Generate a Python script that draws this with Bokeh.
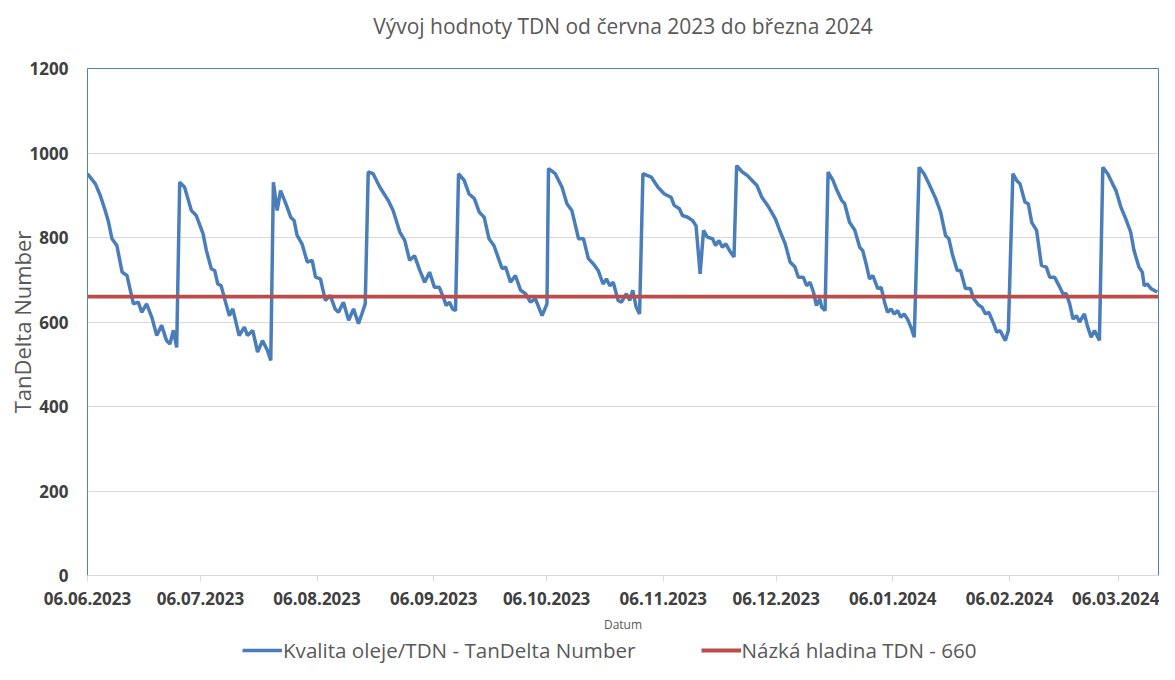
import numpy as np
from bokeh.plotting import figure
from bokeh.layouts import column
from bokeh.models import (FixedTicker, DatetimeTickFormatter, Range1d, Legend,
                          LegendItem, ColumnDataSource)
from bokeh.embed import file_html
from bokeh.resources import INLINE

TITLE = "Vývoj hodnoty TDN od června 2023 do března 2024"
Y_LABEL = "TanDelta Number"
X_LABEL = "Datum"
SERIES_TDN = "Kvalita oleje/TDN - TanDelta Number"
SERIES_LOW = "Názká hladina TDN - 660"

START_DATE = "2023-06-06"
# days since 06.06.2023
day_offset = [
    0.0, 2.1, 3.4, 4.7, 5.6, 6.5, 7.8, 9.2, 10.5, 12.2, 13.5, 14.4, 15.7, 17.1, 18.4, 19.7,
    21.0, 21.9, 22.8, 23.7, 24.5, 25.8, 27.6, 28.9, 30.7, 31.6, 32.9, 33.8, 34.6, 35.5, 36.8,
    37.7, 38.6, 40.3, 41.7, 42.5, 43.9, 45.2, 46.5, 47.8, 48.7, 49.4, 50.4, 51.3, 52.7, 54.0,
    54.9, 55.7, 57.0, 58.4, 59.7, 60.6, 61.9, 63.2, 64.5, 65.8, 66.7, 68.0, 69.4, 70.7, 72.0,
    72.9, 73.8, 74.6, 75.9, 77.7, 79.9, 81.2, 83.0, 84.3, 85.6, 86.9, 88.3, 89.6, 90.9, 92.2,
    93.5, 94.9, 95.3, 96.2, 97.0, 97.8, 98.6, 100.1, 101.4, 102.8, 104.1, 105.4, 106.7, 108.0,
    109.4, 110.2, 111.1, 112.4, 113.7, 115.1, 116.4, 117.7, 119.0, 119.9, 120.8, 122.1, 122.5,
    124.3, 126.1, 127.4, 128.7, 130.5, 131.8, 133.1, 134.4, 135.7, 137.0, 137.9, 138.8, 139.7,
    141.0, 141.9, 143.2, 144.1, 144.9, 145.8, 146.7, 147.6, 149.8, 151.6, 153.3, 155.1, 155.9,
    157.3, 158.1, 159.5, 160.8, 161.7, 162.8, 163.7, 164.7, 166.1, 166.9, 167.8, 168.7, 169.6,
    170.9, 171.8, 172.5, 174.0, 175.3, 176.6, 177.9, 179.2, 181.0, 182.8, 184.1, 185.4, 186.7,
    188.0, 188.9, 190.2, 191.1, 192.0, 192.9, 193.7, 194.6, 195.1, 196.0, 196.8, 198.1, 199.0,
    200.4, 201.2, 202.5, 203.9, 205.2, 206.0, 206.9, 207.8, 208.7, 210.0, 210.9, 211.8, 212.6,
    213.5, 214.4, 215.3, 216.1, 217.0, 217.9, 218.8, 219.7, 221.0, 222.3, 223.6, 225.4, 226.7,
    228.0, 228.9, 229.8, 231.1, 232.0, 233.3, 234.6, 235.5, 236.8, 237.7, 238.6, 239.5, 240.8,
    241.6, 242.5, 243.9, 244.7, 245.9, 246.9, 247.8, 249.1, 250.0, 250.9, 252.2, 253.5, 254.8,
    255.7, 257.0, 258.4, 259.2, 260.1, 261.0, 261.9, 262.8, 263.6, 264.9, 265.8, 266.7, 267.6,
    268.9, 269.8, 271.1, 272.4, 273.3, 274.6, 275.9, 277.2, 278.1, 279.4, 280.3, 280.8, 281.6,
    282.6, 283.4, 284.3,
]
tdn = [
    951, 927, 899, 864, 836, 797, 781, 718, 710, 643, 647, 623, 643, 611, 568, 592,
    556, 548, 580, 540, 931, 919, 864, 852, 809, 769, 726, 722, 690, 686, 643,
    615, 631, 568, 588, 568, 580, 529, 556, 533, 509, 931, 864, 911, 880, 848,
    840, 805, 785, 742, 746, 706, 702, 651, 663, 631, 623, 647, 604, 631, 596,
    619, 643, 955, 951, 919, 888, 864, 813, 793, 746, 757, 722, 694, 718, 682,
    682, 650, 639, 647, 631, 627, 951, 935, 903, 892, 860, 848, 797, 781,
    746, 726, 730, 694, 710, 675, 667, 647, 655, 635, 615, 643, 963,
    951, 919, 880, 864, 797, 797, 750, 738, 722, 690, 702, 686, 694,
    651, 647, 667, 651, 675, 635, 619, 951, 943, 919, 903, 895, 876,
    868, 852, 848, 840, 828, 714, 817, 801, 797, 781, 793, 777, 785,
    765, 754, 970, 955, 947, 935, 923, 895, 872, 844, 813, 785, 742,
    730, 706, 706, 686, 694, 671, 639, 655, 635, 627, 955, 935, 915,
    888, 880, 836, 817, 777, 769, 738, 702, 710, 679, 682, 647, 623,
    631, 619, 627, 611, 619, 607, 588, 564, 966, 951, 927, 892, 860,
    805, 797, 761, 722, 722, 679, 679, 655, 640, 635, 619, 623, 596,
    576, 580, 556, 580, 951, 935, 927, 884, 880, 836, 817, 734, 730,
    706, 706, 682, 667, 667, 643, 607, 615, 600, 619, 588, 564, 580,
    556, 966, 951, 927, 911, 872, 844, 813, 769, 730, 718, 686, 690,
    679, 675, 671,
]
LOW_LEVEL = 660
X_END_DAY = 284.6
tick_dates = ["2023-06-06", "2023-07-06", "2023-08-06", "2023-09-06", "2023-10-06",
              "2023-11-06", "2023-12-06", "2024-01-06", "2024-02-06", "2024-03-06"]
y_ticks = [0, 200, 400, 600, 800, 1000, 1200]

DAY_MS = 86400000
start_ms = int(np.datetime64(START_DATE, "ms").astype(np.int64))
end_ms = start_ms + X_END_DAY * DAY_MS
x_vals = [start_ms + d * DAY_MS for d in day_offset]
tick_ms = [int(np.datetime64(t, "ms").astype(np.int64)) for t in tick_dates]

FONT = "Open Sans"
TXT = "#595959"
BLUE = "#4A7EBB"
RED = "#BE4B48"
W = 1159
MAIN_H = 636
LEG_H = 28

p = figure(width=W, height=MAIN_H, x_axis_type="datetime", output_backend="svg",
           toolbar_location=None, x_range=Range1d(start_ms, end_ms),
           y_range=Range1d(0, 1200), min_border_left=87, min_border_right=1,
           min_border_top=68, min_border_bottom=61)
p.background_fill_color = "white"
p.border_fill_color = "white"
p.outline_line_color = "#4F81BD"
p.outline_line_width = 1

p.title.text = TITLE + "\n"
p.title.align = "center"
p.title.vertical_align = "bottom"
p.title.text_font = FONT
p.title.text_font_size = "21px"
p.title.text_font_style = "normal"
p.title.text_color = TXT
p.title.standoff = 2

src = ColumnDataSource(dict(x=x_vals, y=tdn))
r1 = p.line("x", "y", source=src, line_color=BLUE, line_width=3.5)
low_src = ColumnDataSource(dict(x=[start_ms, end_ms], y=[LOW_LEVEL, LOW_LEVEL]))
r2 = p.line("x", "y", source=low_src, line_color=RED, line_width=3.8)

# axes
p.xaxis.ticker = FixedTicker(ticks=tick_ms)
p.xaxis.formatter = DatetimeTickFormatter(days="%d.%m.%Y", months="%d.%m.%Y",
                                          years="%d.%m.%Y")
p.xaxis.axis_line_color = "#D9D9D9"
p.xaxis.major_tick_line_color = "#D9D9D9"
p.xaxis.major_tick_out = 6
p.xaxis.major_tick_in = 0
p.xaxis.minor_tick_line_color = None
p.xaxis.minor_tick_out = 0
p.xaxis.minor_tick_in = 0
p.xaxis.major_label_standoff = 10
p.xaxis.major_label_text_font = FONT
p.xaxis.major_label_text_font_size = "17px"
p.xaxis.major_label_text_font_style = "bold"
p.xaxis.major_label_text_color = "#404040"
p.xaxis.axis_label = X_LABEL
p.xaxis.axis_label_text_font = FONT
p.xaxis.axis_label_text_font_size = "12px"
p.xaxis.axis_label_text_font_style = "normal"
p.xaxis.axis_label_text_color = TXT
p.xaxis.axis_label_standoff = 8

p.yaxis.ticker = FixedTicker(ticks=y_ticks)
p.yaxis.axis_line_color = None
p.yaxis.major_tick_line_color = None
p.yaxis.minor_tick_line_color = None
p.yaxis.major_tick_out = 0
p.yaxis.major_tick_in = 0
p.yaxis.minor_tick_out = 0
p.yaxis.minor_tick_in = 0
p.yaxis.major_label_standoff = 19
p.yaxis.major_label_text_font = FONT
p.yaxis.major_label_text_font_size = "17px"
p.yaxis.major_label_text_font_style = "bold"
p.yaxis.major_label_text_color = "#404040"
p.yaxis.axis_label = Y_LABEL
p.yaxis.axis_label_text_font = FONT
p.yaxis.axis_label_text_font_size = "22px"
p.yaxis.axis_label_text_font_style = "normal"
p.yaxis.axis_label_text_color = TXT
p.yaxis.axis_label_standoff = -10

p.xgrid.grid_line_color = None
p.ygrid.grid_line_color = "#D9D9D9"
p.ygrid.grid_line_width = 1

# legend strip below the chart (same series, drawn outside its visible range)
lg = figure(width=W, height=LEG_H, output_backend="svg", toolbar_location=None,
            x_range=Range1d(0, 1), y_range=Range1d(0, 1), min_border=0,
            x_axis_location=None, y_axis_location=None)
lg.grid.visible = False
lg.outline_line_color = None
lg.background_fill_color = "white"
lg.border_fill_color = "white"
lr1 = lg.line("x", "y", source=src, line_color=BLUE, line_width=3.5)
lr2 = lg.line("x", "y", source=low_src, line_color=RED, line_width=3.8)

legend = Legend(items=[LegendItem(label=SERIES_TDN, renderers=[lr1]),
                       LegendItem(label=SERIES_LOW, renderers=[lr2])],
                location=(155, 0), orientation="horizontal")
legend.border_line_color = None
legend.background_fill_alpha = 0
legend.padding = 0
legend.margin = 0
legend.spacing = 65
legend.glyph_width = 40
legend.glyph_height = 20
legend.label_standoff = 1
legend.label_text_font = FONT
legend.label_text_font_size = "20.6px"
legend.label_text_color = TXT
lg.add_layout(legend, "center")

layout = column(p, lg, spacing=0)
open("out.html", "w").write(file_html(layout, INLINE))
